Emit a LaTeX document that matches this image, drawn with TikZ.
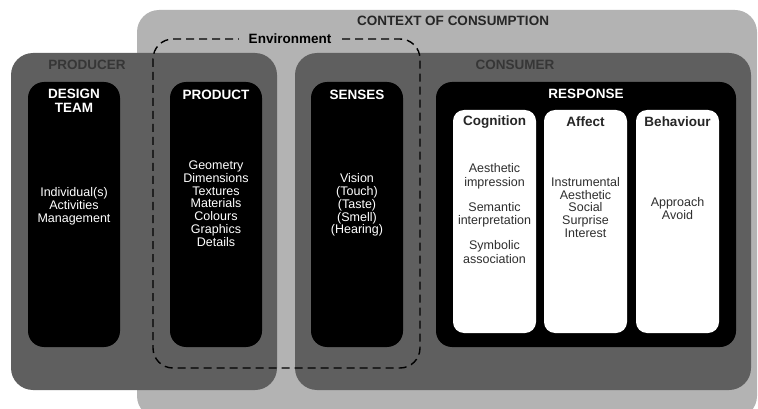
\documentclass[tikz,border=0pt]{standalone}
\usepackage{fontspec}
\setmainfont{Liberation Sans}
\definecolor{contextgray}{HTML}{B3B3B3}
\definecolor{agentgray}{HTML}{5F5F5F}
\definecolor{labelgray}{HTML}{363636}
\definecolor{textgray}{HTML}{2E2E2E}

\begin{document}
\begin{tikzpicture}[x=1pt,y=-1pt,
	panel/.style={rounded corners=22pt},
	column/.style={fill=black,rounded corners=16pt},
	subcolumn/.style={fill=white,rounded corners=11pt},
	heading/.style={font=\fontsize{13.5}{14}\selectfont\bfseries,inner sep=0pt},
	items/.style={font=\fontsize{12.5}{12.8}\selectfont,align=center,inner sep=0pt}]
\useasboundingbox (0,0) rectangle (758,409);
% context of consumption
	\fill[contextgray,panel] (137,10) rectangle (757,418);
	\node[heading,text=black!85] (context) at (453,21) {CONTEXT OF CONSUMPTION};
% producer
	\fill[agentgray,panel] (11,53) rectangle (277,390);
	\node[heading,text=labelgray] (producer) at (87,65) {PRODUCER};
% consumer
	\fill[agentgray,panel] (295,53) rectangle (751,390);
	\node[heading,text=labelgray] (consumer) at (515,65) {CONSUMER};
% environment (dashed)
	\draw[line width=1.4pt,dash pattern=on 8pt off 5pt,rounded corners=20pt]
		(153,39) rectangle (420,368);
	\node[heading,fill=contextgray,inner xsep=10pt,inner ysep=2pt] (environment) at (290,39) {Environment};

% design team
	\fill[column] (28,82) rectangle (120,347);
	\node[heading,text=white,align=center] (designteam) at (74,100.5) {DESIGN\\TEAM};
	\node[items,text=white] (designitems) at (74,206.5)
		{Individual(s)\\Activities\\Management};
% product
	\fill[column] (170,82) rectangle (262,347);
	\node[heading,text=white] (product) at (216,95) {PRODUCT};
	\node[items,text=white] (productitems) at (216,203.5)
		{Geometry\\Dimensions\\Textures\\Materials\\Colours\\Graphics\\Details};
% senses
	\fill[column] (311,82) rectangle (403,347);
	\node[heading,text=white] (senses) at (357,95) {SENSES};
	\node[items,text=white] (sensesitems) at (357,205)
		{Vision\\(Touch)\\(Taste)\\(Smell)\\(Hearing)};

% response
	\fill[column] (436,82) rectangle (736,347);
	\node[heading,text=white] (response) at (586,94) {RESPONSE};
% cognition
	\fill[subcolumn] (453,110) rectangle (536,333);
	\node[heading,text=black!85] (cognition) at (494.5,122) {Cognition};
	\node[items,text=textgray,font=\fontsize{12.5}{13.5}\selectfont] (cognitionitems) at (494.5,213.5)
		{Aesthetic\\impression\\[11.5pt]Semantic\\interpretation\\[11.5pt]Symbolic\\association};
% affect
	\fill[subcolumn] (544,110) rectangle (627,333);
	\node[heading,text=black!85] (affect) at (585.5,122) {Affect};
	\node[items,text=textgray] (affectitems) at (585.5,207.5)
		{Instrumental\\Aesthetic\\Social\\Surprise\\Interest};
% behaviour
	\fill[subcolumn] (636,110) rectangle (719,333);
	\node[heading,text=black!85] (behaviour) at (677.5,122) {Behaviour};
	\node[items,text=textgray] (behaviouritems) at (677.5,208.5)
		{Approach\\Avoid};
\end{tikzpicture}
\end{document}
